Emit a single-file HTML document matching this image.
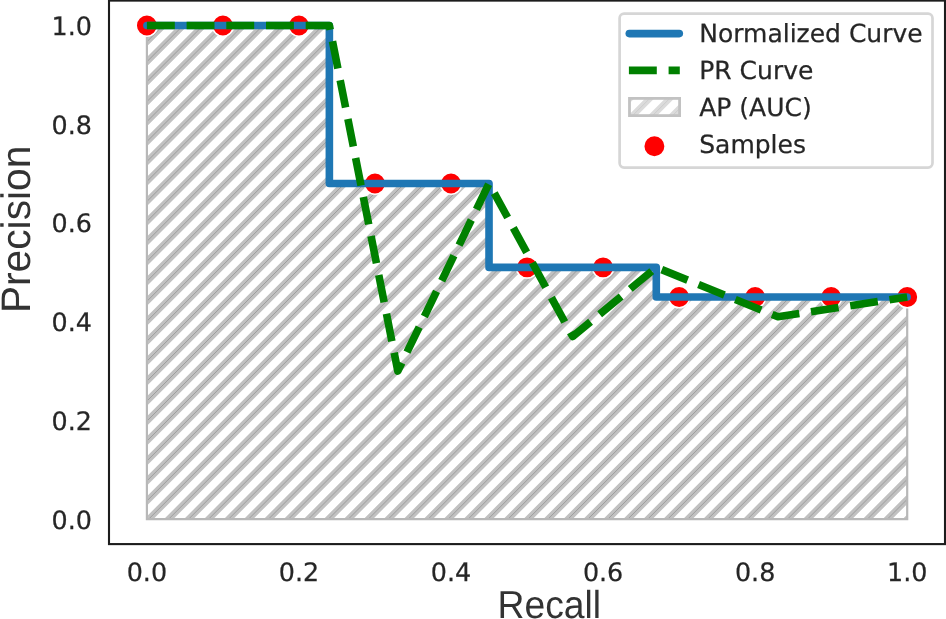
<!DOCTYPE html>
<html lang="en"><head><meta charset="utf-8"><title>Precision-Recall Curve</title>
<style>
html,body{margin:0;padding:0;background:#fff;}
body{width:946px;height:619px;overflow:hidden;}
svg{display:block;}
text{text-rendering:geometricPrecision;}
.tick{font-family:"DejaVu Sans","Liberation Sans",sans-serif;font-size:25.4px;fill:#262626;stroke:#262626;stroke-width:0.25px;}
.lab{font-family:"Liberation Sans",Arial,sans-serif;font-size:40.7px;fill:#333;}
.leg{font-family:"DejaVu Sans","Liberation Sans",sans-serif;font-size:25.0px;fill:#262626;stroke:#262626;stroke-width:0.25px;}
</style></head><body>
<svg width="946" height="619" viewBox="0 0 946 619">
<defs>
<clipPath id="area"><polygon points="146.90,519.20 146.90,25.50 329.37,25.50 329.37,183.48 489.03,183.48 489.03,267.41 656.30,267.41 656.30,297.04 907.20,297.04 907.20,519.20"/></clipPath>
<clipPath id="legpatch"><rect x="629.5" y="98.4" width="50.1" height="17.2"/></clipPath>
</defs>
<rect x="0" y="0" width="946" height="619" fill="#ffffff"/>
<g clip-path="url(#area)"><path d="M-380.49,529.20L133.21,15.50M-360.53,529.20L153.17,15.50M-340.56,529.20L173.14,15.50M-320.60,529.20L193.10,15.50M-300.63,529.20L213.07,15.50M-280.67,529.20L233.03,15.50M-260.70,529.20L253.00,15.50M-240.74,529.20L272.96,15.50M-220.77,529.20L292.93,15.50M-200.81,529.20L312.89,15.50M-180.84,529.20L332.86,15.50M-160.88,529.20L352.82,15.50M-140.91,529.20L372.79,15.50M-120.95,529.20L392.75,15.50M-100.98,529.20L412.72,15.50M-81.02,529.20L432.68,15.50M-61.05,529.20L452.65,15.50M-41.09,529.20L472.61,15.50M-21.12,529.20L492.58,15.50M-1.16,529.20L512.54,15.50M18.81,529.20L532.51,15.50M38.77,529.20L552.47,15.50M58.74,529.20L572.44,15.50M78.70,529.20L592.40,15.50M98.67,529.20L612.37,15.50M118.63,529.20L632.33,15.50M138.60,529.20L652.30,15.50M158.56,529.20L672.26,15.50M178.53,529.20L692.23,15.50M198.49,529.20L712.19,15.50M218.46,529.20L732.16,15.50M238.42,529.20L752.12,15.50M258.39,529.20L772.09,15.50M278.35,529.20L792.05,15.50M298.32,529.20L812.02,15.50M318.28,529.20L831.98,15.50M338.25,529.20L851.95,15.50M358.21,529.20L871.91,15.50M378.18,529.20L891.88,15.50M398.14,529.20L911.85,15.50M418.11,529.20L931.81,15.50M438.07,529.20L951.77,15.50M458.04,529.20L971.74,15.50M478.00,529.20L991.70,15.50M497.97,529.20L1011.67,15.50M517.93,529.20L1031.63,15.50M537.90,529.20L1051.60,15.50M557.87,529.20L1071.57,15.50M577.83,529.20L1091.53,15.50M597.79,529.20L1111.49,15.50M617.76,529.20L1131.46,15.50M637.72,529.20L1151.42,15.50M657.69,529.20L1171.39,15.50M677.65,529.20L1191.36,15.50M697.62,529.20L1211.32,15.50M717.58,529.20L1231.28,15.50M737.55,529.20L1251.25,15.50M757.51,529.20L1271.21,15.50M777.48,529.20L1291.18,15.50M797.44,529.20L1311.14,15.50M817.41,529.20L1331.11,15.50M837.37,529.20L1351.07,15.50M857.34,529.20L1371.04,15.50M877.31,529.20L1391.01,15.50M897.27,529.20L1410.97,15.50M917.23,529.20L1430.93,15.50" fill="none" stroke="#c1c1c1" stroke-width="6.6"/><path d="M-380.49,529.20L133.21,15.50M-360.53,529.20L153.17,15.50M-340.56,529.20L173.14,15.50M-320.60,529.20L193.10,15.50M-300.63,529.20L213.07,15.50M-280.67,529.20L233.03,15.50M-260.70,529.20L253.00,15.50M-240.74,529.20L272.96,15.50M-220.77,529.20L292.93,15.50M-200.81,529.20L312.89,15.50M-180.84,529.20L332.86,15.50M-160.88,529.20L352.82,15.50M-140.91,529.20L372.79,15.50M-120.95,529.20L392.75,15.50M-100.98,529.20L412.72,15.50M-81.02,529.20L432.68,15.50M-61.05,529.20L452.65,15.50M-41.09,529.20L472.61,15.50M-21.12,529.20L492.58,15.50M-1.16,529.20L512.54,15.50M18.81,529.20L532.51,15.50M38.77,529.20L552.47,15.50M58.74,529.20L572.44,15.50M78.70,529.20L592.40,15.50M98.67,529.20L612.37,15.50M118.63,529.20L632.33,15.50M138.60,529.20L652.30,15.50M158.56,529.20L672.26,15.50M178.53,529.20L692.23,15.50M198.49,529.20L712.19,15.50M218.46,529.20L732.16,15.50M238.42,529.20L752.12,15.50M258.39,529.20L772.09,15.50M278.35,529.20L792.05,15.50M298.32,529.20L812.02,15.50M318.28,529.20L831.98,15.50M338.25,529.20L851.95,15.50M358.21,529.20L871.91,15.50M378.18,529.20L891.88,15.50M398.14,529.20L911.85,15.50M418.11,529.20L931.81,15.50M438.07,529.20L951.77,15.50M458.04,529.20L971.74,15.50M478.00,529.20L991.70,15.50M497.97,529.20L1011.67,15.50M517.93,529.20L1031.63,15.50M537.90,529.20L1051.60,15.50M557.87,529.20L1071.57,15.50M577.83,529.20L1091.53,15.50M597.79,529.20L1111.49,15.50M617.76,529.20L1131.46,15.50M637.72,529.20L1151.42,15.50M657.69,529.20L1171.39,15.50M677.65,529.20L1191.36,15.50M697.62,529.20L1211.32,15.50M717.58,529.20L1231.28,15.50M737.55,529.20L1251.25,15.50M757.51,529.20L1271.21,15.50M777.48,529.20L1291.18,15.50M797.44,529.20L1311.14,15.50M817.41,529.20L1331.11,15.50M837.37,529.20L1351.07,15.50M857.34,529.20L1371.04,15.50M877.31,529.20L1391.01,15.50M897.27,529.20L1410.97,15.50M917.23,529.20L1430.93,15.50" fill="none" stroke="#999999" stroke-width="0.9"/></g>
<polygon points="146.90,519.20 146.90,25.50 329.37,25.50 329.37,183.48 489.03,183.48 489.03,267.41 656.30,267.41 656.30,297.04 907.20,297.04 907.20,519.20" fill="none" stroke="#b8b8b8" stroke-width="2.2" stroke-linejoin="miter"/>
<g fill="#ff0000" stroke="#ffffff" stroke-width="1.5"><circle cx="146.90" cy="25.50" r="10.7"/><circle cx="222.93" cy="25.50" r="10.7"/><circle cx="298.96" cy="25.50" r="10.7"/><circle cx="374.99" cy="183.48" r="10.7"/><circle cx="451.02" cy="183.48" r="10.7"/><circle cx="527.05" cy="267.41" r="10.7"/><circle cx="603.08" cy="267.41" r="10.7"/><circle cx="679.11" cy="297.04" r="10.7"/><circle cx="755.14" cy="297.04" r="10.7"/><circle cx="831.17" cy="297.04" r="10.7"/><circle cx="907.20" cy="297.04" r="10.7"/></g>
<polyline points="146.90,25.50 329.37,25.50 329.37,183.48 489.03,183.48 489.03,267.41 656.30,267.41 656.30,297.04 907.20,297.04" fill="none" stroke="#1f77b4" stroke-width="7.6" stroke-linejoin="round" stroke-linecap="round"/>
<polyline points="146.90,25.50 329.37,25.50 397.80,371.09 489.03,183.48 572.67,336.53 656.30,267.41 777.95,316.78 907.20,297.04" fill="none" stroke="#008000" stroke-width="7.6" stroke-linejoin="round" stroke-linecap="butt" stroke-dasharray="27.9 11.8"/>
<rect x="109" y="0.6" width="836.0" height="543.5" fill="none" stroke="#1c1c1c" stroke-width="2.1"/>
<text class="tick" x="146.90" y="580.7" text-anchor="middle">0.0</text><text class="tick" x="91.9" y="528.70" text-anchor="end">0.0</text><text class="tick" x="298.96" y="580.7" text-anchor="middle">0.2</text><text class="tick" x="91.9" y="429.96" text-anchor="end">0.2</text><text class="tick" x="451.02" y="580.7" text-anchor="middle">0.4</text><text class="tick" x="91.9" y="331.22" text-anchor="end">0.4</text><text class="tick" x="603.08" y="580.7" text-anchor="middle">0.6</text><text class="tick" x="91.9" y="232.48" text-anchor="end">0.6</text><text class="tick" x="755.14" y="580.7" text-anchor="middle">0.8</text><text class="tick" x="91.9" y="133.74" text-anchor="end">0.8</text><text class="tick" x="907.20" y="580.7" text-anchor="middle">1.0</text><text class="tick" x="91.9" y="35.00" text-anchor="end">1.0</text>
<text class="lab" transform="translate(549.3,618.0) scale(1,1.045)" x="0" y="0" text-anchor="middle" style="font-size:37.3px">Recall</text>
<text class="lab" transform="translate(30.2,229.4) rotate(-90) scale(1,1.012)" text-anchor="middle">Precision</text>
<rect x="619.6" y="13.7" width="312.9" height="153.9" rx="4.5" ry="4.5" fill="#ffffff" fill-opacity="0.8" stroke="#d6d6d6" stroke-width="2.7"/>
<line x1="629.3" y1="33.60" x2="679.3" y2="33.60" stroke="#1f77b4" stroke-width="7.6" stroke-linecap="round"/>
<line x1="628.9" y1="70.40" x2="679.8" y2="70.40" stroke="#008000" stroke-width="7.6" stroke-dasharray="27.9 11.8"/>
<g clip-path="url(#legpatch)"><path d="M562.31,126.00L600.31,88.00M582.27,126.00L620.27,88.00M602.24,126.00L640.24,88.00M622.20,126.00L660.20,88.00M642.17,126.00L680.17,88.00M662.13,126.00L700.13,88.00M682.10,126.00L720.10,88.00M702.06,126.00L740.06,88.00" fill="none" stroke="#dbdbdb" stroke-width="6.4"/><path d="M562.31,126.00L600.31,88.00M582.27,126.00L620.27,88.00M602.24,126.00L640.24,88.00M622.20,126.00L660.20,88.00M642.17,126.00L680.17,88.00M662.13,126.00L700.13,88.00M682.10,126.00L720.10,88.00M702.06,126.00L740.06,88.00" fill="none" stroke="#c8c8c8" stroke-width="0.8"/></g>
<rect x="629.5" y="98.4" width="50.1" height="17.2" fill="none" stroke="#c2c2c2" stroke-width="2.8"/>
<circle cx="654.4" cy="146.20" r="10.7" fill="#ff0000" stroke="#ffffff" stroke-width="1.5"/>
<text class="leg" x="699.2" y="42.20">Normalized Curve</text><text class="leg" x="699.2" y="79.00">PR Curve</text><text class="leg" x="699.2" y="115.80">AP (AUC)</text><text class="leg" x="699.2" y="152.60">Samples</text>
</svg>
</body></html>
